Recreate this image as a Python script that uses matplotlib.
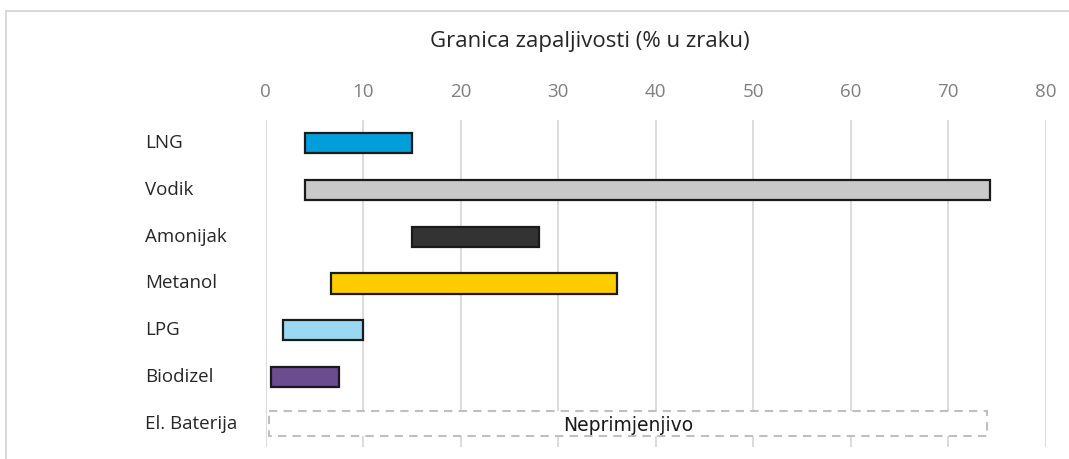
import matplotlib
matplotlib.use("Agg")
import matplotlib.pyplot as plt
from matplotlib.patches import Rectangle

plt.rcParams['font.family'] = ['Open Sans', 'DejaVu Sans']

# granice zapaljivosti (% u zraku)
categories = ["LNG", "Vodik", "Amonijak", "Metanol", "LPG", "Biodizel", "El. Baterija"]
lower = [4.0, 4.0, 15.0, 6.7, 1.8, 0.6, None]
upper = [15.0, 74.3, 28.0, 36.0, 10.0, 7.5, None]
colors = ["#009fda", "#c9c9c9", "#333333", "#ffcc00", "#9ad8f2", "#6b4c8e", "none"]
na_label = "Neprimjenjivo"
na_span = (0.4, 74.0)
xticks = [0, 10, 20, 30, 40, 50, 60, 70, 80]
title = "Granica zapaljivosti (% u zraku)"

fig = plt.figure(figsize=(10.69, 4.59), dpi=100)
ax = fig.add_axes([265.5 / 1069, 12 / 459, 780 / 1069, 327 / 459])

# outer chart frame (cut at right and bottom like the screenshot)
fig.patches.append(Rectangle((6 / 1069, -0.1), 1.1, (459 - 11) / 459 + 0.1,
                             transform=fig.transFigure, fill=False,
                             edgecolor="#d9d9d9", lw=1.5))

for i, (lo, hi, c) in enumerate(zip(lower, upper, colors)):
    if lo is None:
        ax.barh(i, na_span[1] - na_span[0], left=na_span[0], height=0.52,
                color="white", edgecolor="#bfbfbf", lw=1.5, linestyle=(0, (4, 3)), zorder=3)
        ax.text((na_span[0] + na_span[1]) / 2, i + 0.04, na_label, ha="center", va="center",
                fontsize=13.5, color="#1a1a1a", family="DejaVu Sans", zorder=4)
    else:
        ax.barh(i, hi - lo, left=lo, height=0.43, color=c, edgecolor="#1a1a1a",
                lw=1.6, zorder=3)

ax.set_xlim(0, 80)
ax.set_ylim(len(categories) - 0.5, -0.5)
ax.set_xticks(xticks)
ax.xaxis.tick_top()
ax.tick_params(axis="x", length=0, pad=14, labelsize=13.5, labelcolor="#7f7f7f")
ax.set_yticks([])
ax.grid(axis="x", color="#d9d9d9", lw=1.3, zorder=0)
for s in ax.spines.values():
    s.set_visible(False)

for i, name in enumerate(categories):
    ax.text(-0.1545, i, name, transform=ax.get_yaxis_transform(), ha="left",
            va="center", fontsize=13.5, color="#262626")

fig.text(590 / 1069, 1 - 41 / 459, title, ha="center", va="center",
         fontsize=16, color="#262626")

fig.savefig("out.png", dpi=100)
